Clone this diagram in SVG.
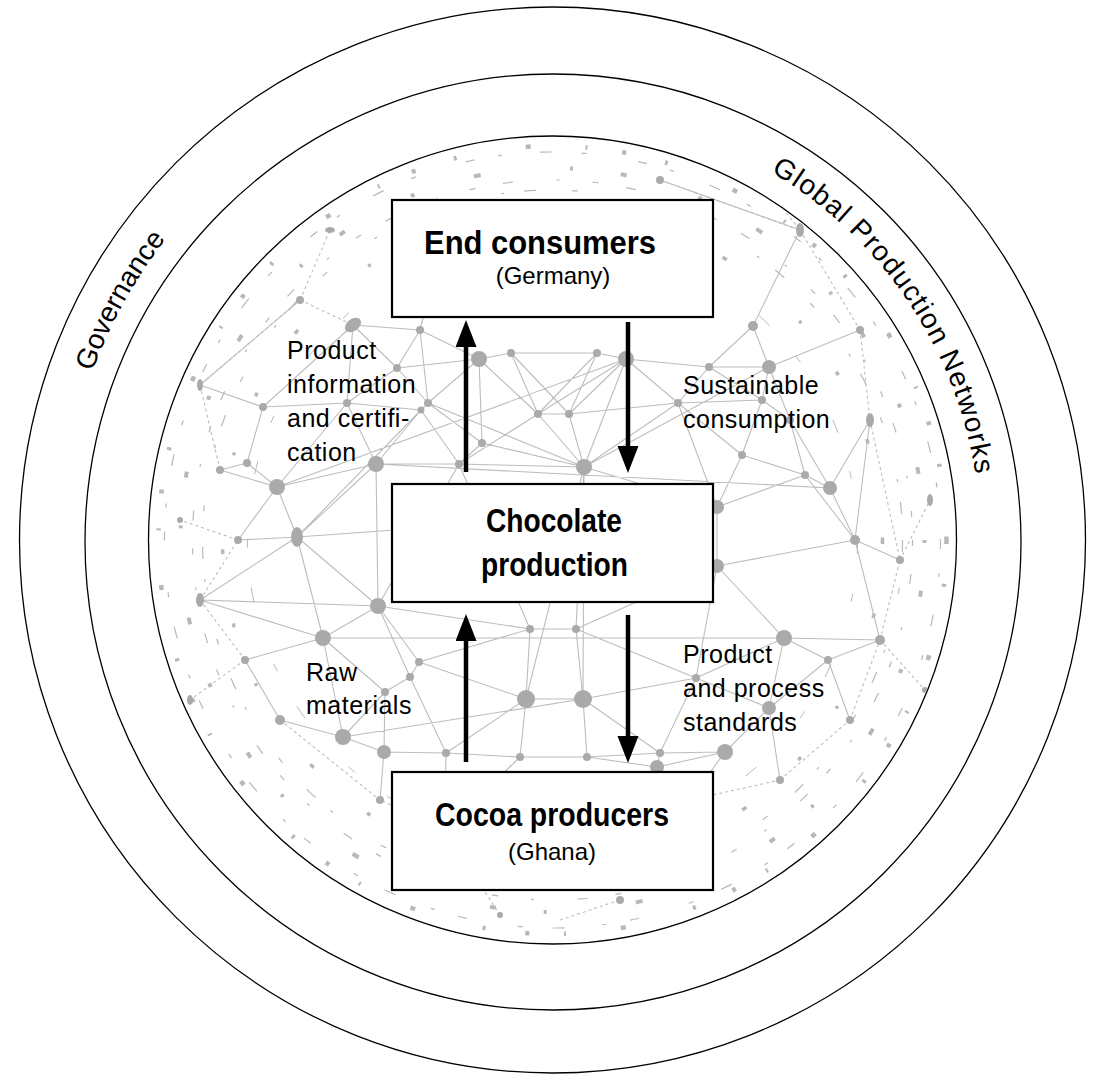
<svg xmlns="http://www.w3.org/2000/svg" width="1094" height="1074" viewBox="0 0 1094 1074">
<style>
.ring{fill:none;stroke:#000;stroke-width:1.3}
.box{fill:#fff;stroke:#000;stroke-width:2.2}
.title{font-family:"Liberation Sans",Arial,sans-serif;font-weight:bold;font-size:33px;fill:#000}
.sub{font-family:"Liberation Sans",Arial,sans-serif;font-size:24px;fill:#000}
.lbl{font-family:"Liberation Sans",Arial,sans-serif;font-size:25px;letter-spacing:0.5px;fill:#000}
.arc{font-family:"Liberation Sans",Arial,sans-serif;font-size:28px;fill:#000}
.net{fill:none;stroke:#bdbdbd;stroke-width:1.1}
.dot{fill:#aaaaaa}
.frag{fill:none;stroke:#b8b8b8}
.arrow{stroke:#000;stroke-width:4.5;fill:none}
</style>
<defs>
<clipPath id="inner"><circle cx="552.5" cy="540" r="403"/></clipPath>
<marker id="head" markerUnits="userSpaceOnUse" markerWidth="28" markerHeight="22" refX="0" refY="10.5" orient="auto">
<path d="M0,0 L27,10.5 L0,21 z" fill="#000"/>
</marker>
<path id="govPath" d="M 62.57 548.55 A 490 490 0 0 1 300.15 119.97"/>
<path id="gpnPath" d="M 740.1 155.3 A 428 428 0 0 1 979.5 510.1"/>
</defs>

<g id="background-network" clip-path="url(#inner)">
<circle class="frag" cx="552.5" cy="540" r="394" stroke-width="4.5" stroke-dasharray="4 40 3 70 5 55 2 35"/>
<circle class="frag" cx="552.5" cy="540" r="388" stroke-width="1.2" stroke-dasharray="9 24 4 38 12 30 5 52"/>
<circle class="frag" cx="552.5" cy="540" r="372" stroke-width="4" stroke-dasharray="3 48 6 75 4 62 7 90"/>
<circle class="frag" cx="552.5" cy="540" r="360" stroke-width="1.2" stroke-dasharray="6 28 10 44 3 33"/>
<circle class="frag" cx="552.5" cy="540" r="350" stroke-width="1.2" stroke-dasharray="12 36 6 58 3 20"/>
<circle class="frag" cx="552.5" cy="540" r="330" stroke-width="3.5" stroke-dasharray="4 70 5 95 3 60"/>
<circle class="frag" cx="552.5" cy="540" r="305" stroke-width="1" stroke-dasharray="14 40 8 66"/>
<path class="net" stroke-dasharray="3 3" d="M300 300 L200 385 M440 250 L420 330 M660 180 L800 230 M800 230 L860 330 M860 330 L870 420 M870 420 L900 560 M880 640 L900 560 M850 720 L880 640 M780 780 L850 720 M690 800 L780 780 M445 830 L380 800 M280 720 L380 800 M245 660 L200 600 M200 600 L238 540 M220 470 L200 385 M300 300 L353 325 M690 800 L657 767 M445 830 L520 757 M900 560 L930 500 M880 640 L925 690 M245 660 L190 700 M238 540 L180 520 M300 300 L330 230 M760 180 L800 230 M560 920 L620 900 M500 915 L445 830"/>
<path class="net" d="
M479 359 L511 353 M479 359 L428 403 M479 359 L538 414 M479 359 L482 443 M479 359 L420 330 M479 359 L397 368
M511 353 L597 353 M511 353 L538 414 M511 353 L569 414
M597 353 L626 359 M597 353 L569 414 M597 353 L538 414
M626 359 L569 414 M626 359 L678 403 M626 359 L709 367 M626 359 L584 467 M626 359 L538 414
M538 414 L569 414 M538 414 L584 467 M538 414 L459 464
M569 414 L584 467 M569 414 L678 403
M428 403 L421 410 M428 403 L420 330 M428 403 L397 368 M428 403 L482 443 M428 403 L584 467
M421 410 L376 464 M421 410 L347 403 M421 410 L459 464 M421 410 L297 537
M376 464 L459 464 M376 464 L277 487 M376 464 L347 403 M376 464 L297 537 M376 464 L378 606
M459 464 L482 443 M459 464 L584 467 M459 464 L378 606 M459 464 L530 629
M482 443 L584 467
M584 467 L678 403 M584 467 L717 507 M584 467 L526 699 M584 467 L576 629 M584 467 L583 699
M678 403 L709 367 M678 403 L762 400 M678 403 L717 507 M678 403 L742 455
M709 367 L753 326 M709 367 L769 367 M709 367 L762 400
M753 326 L769 367 M753 326 L800 230
M769 367 L762 400 M769 367 L790 420 M769 367 L860 330
M805 475 L830 488 M805 475 L742 455 M805 475 L790 420 M805 475 L717 507
M830 488 L855 540 M830 488 L870 420 M830 488 L790 420
M762 400 L742 455 M762 400 L790 420
M353 325 L420 330 M353 325 L397 368 M353 325 L347 403 M353 325 L263 407
M420 330 L440 250 M420 330 L397 368
M397 368 L347 403
M347 403 L263 407 M347 403 L277 487
M277 487 L247 463 M277 487 L297 537 M277 487 L220 470 M277 487 L238 540
M247 463 L263 407 M247 463 L220 470
M263 407 L200 385
M297 537 L378 606 M297 537 L323 638 M297 537 L238 540 M297 537 L200 600
M378 606 L323 638 M378 606 L419 662 M378 606 L530 629 M378 606 L410 677
M323 638 L343 737 M323 638 L245 660 M323 638 L200 600 M323 638 L385 692
M419 662 L410 677 M419 662 L530 629 M419 662 L526 699
M410 677 L385 692 M410 677 L446 753
M385 692 L343 737 M385 692 L384 752
M343 737 L384 752 M343 737 L280 720
M384 752 L446 753 M384 752 L380 800
M446 753 L526 699 M446 753 L520 757 M446 753 L445 830
M526 699 L583 699 M526 699 L530 629 M526 699 L520 757
M583 699 L576 629 M583 699 L587 757 M583 699 L696 678 M583 699 L660 753
M530 629 L576 629
M576 629 L717 566 M576 629 L696 678
M696 678 L784 638 M696 678 L769 708 M696 678 L717 566 M696 678 L660 753
M784 638 L769 708 M784 638 L828 660 M784 638 L717 566 M784 638 L880 640
M769 708 L725 752 M769 708 L828 660 M769 708 L780 780
M828 660 L850 720 M828 660 L880 640
M725 752 L660 753 M725 752 L657 767 M725 752 L690 800
M660 753 L657 767 M660 753 L587 757
M657 767 L587 757 M657 767 L690 800
M520 757 L587 757 M520 757 L445 830
M717 507 L717 566 M717 507 L742 455 M717 507 L805 475
M717 566 L855 540 M717 566 L784 638
M855 540 L900 560 M855 540 L880 640 M855 540 L870 420
M245 660 L280 720
M300 300 L200 385
M660 180 L800 230
M376 464 L830 488 M277 487 L626 359 M297 537 L717 507 M323 638 L784 638 M343 737 L583 699 M200 600 L378 606 M769 367 L584 467 M855 540 L805 475"/>
<g class="dot">
<circle cx="479" cy="359" r="8"/><circle cx="511" cy="353" r="4"/><circle cx="597" cy="353" r="4"/>
<circle cx="626" cy="359" r="8"/><circle cx="538" cy="414" r="4"/><circle cx="569" cy="414" r="4"/>
<circle cx="428" cy="403" r="4"/><circle cx="421" cy="410" r="3.5"/><circle cx="376" cy="464" r="8"/>
<circle cx="459" cy="464" r="4"/><circle cx="482" cy="443" r="4"/><circle cx="584" cy="467" r="8"/>
<circle cx="678" cy="403" r="4"/><circle cx="709" cy="367" r="4"/><circle cx="753" cy="326" r="5"/>
<circle cx="769" cy="367" r="7"/><circle cx="805" cy="475" r="4"/><circle cx="830" cy="488" r="7"/>
<circle cx="762" cy="400" r="4"/><ellipse cx="353" cy="325" rx="9" ry="6" transform="rotate(-35 353 325)"/>
<circle cx="420" cy="330" r="4"/><circle cx="397" cy="368" r="4"/><circle cx="347" cy="403" r="4"/>
<circle cx="277" cy="487" r="8"/><circle cx="247" cy="463" r="4"/><circle cx="263" cy="407" r="4"/>
<ellipse cx="200" cy="385" rx="3" ry="6"/><ellipse cx="297" cy="537" rx="6" ry="10"/><circle cx="378" cy="606" r="8"/>
<circle cx="323" cy="638" r="8"/><circle cx="419" cy="662" r="4"/><circle cx="410" cy="677" r="4"/>
<circle cx="385" cy="692" r="4"/><circle cx="343" cy="737" r="8"/><circle cx="384" cy="752" r="7"/>
<circle cx="446" cy="753" r="4"/><circle cx="526" cy="699" r="9"/><circle cx="583" cy="699" r="9"/>
<circle cx="530" cy="629" r="4"/><circle cx="576" cy="629" r="4"/><circle cx="696" cy="678" r="4"/>
<circle cx="784" cy="638" r="8"/><circle cx="769" cy="708" r="7"/><circle cx="828" cy="660" r="4"/>
<circle cx="725" cy="752" r="8"/><circle cx="660" cy="753" r="4"/><circle cx="657" cy="767" r="7"/>
<circle cx="520" cy="757" r="4"/><circle cx="587" cy="757" r="4"/><circle cx="717" cy="507" r="7"/>
<circle cx="717" cy="566" r="7"/><circle cx="742" cy="455" r="4"/><circle cx="790" cy="420" r="4"/>
<circle cx="855" cy="540" r="5"/><circle cx="900" cy="560" r="4"/><circle cx="238" cy="540" r="4"/>
<ellipse cx="200" cy="600" rx="4" ry="7"/><circle cx="245" cy="660" r="4"/><circle cx="280" cy="720" r="5"/>
<circle cx="380" cy="800" r="4"/><circle cx="445" cy="830" r="4"/><ellipse cx="690" cy="800" rx="6" ry="4"/>
<circle cx="780" cy="780" r="4"/><circle cx="850" cy="720" r="4"/><circle cx="880" cy="640" r="5"/>
<circle cx="300" cy="300" r="4"/><ellipse cx="440" cy="250" rx="7" ry="4"/><circle cx="660" cy="180" r="4"/>
<ellipse cx="800" cy="230" rx="4" ry="7"/><circle cx="860" cy="330" r="4"/><ellipse cx="870" cy="420" rx="4" ry="7"/>
<circle cx="220" cy="470" r="4"/><ellipse cx="930" cy="500" rx="3" ry="6"/><circle cx="925" cy="690" r="3"/>
<ellipse cx="190" cy="700" rx="3" ry="5"/><circle cx="180" cy="520" r="3"/><ellipse cx="330" cy="230" rx="5" ry="3"/>
<ellipse cx="760" cy="180" rx="5" ry="3"/><circle cx="620" cy="900" r="4"/><circle cx="500" cy="915" r="3"/>
</g>
</g>

<g id="rings">
<circle class="ring" cx="552.5" cy="540" r="533"/>
<circle class="ring" cx="553" cy="542" r="468"/>
<circle class="ring" cx="552.5" cy="540" r="404"/>
</g>

<g id="ring-labels">
<text class="arc"><textPath href="#govPath" startOffset="50%" text-anchor="middle">Governance</textPath></text>
<text class="arc" letter-spacing="1.2"><textPath href="#gpnPath" startOffset="50%" text-anchor="middle">Global Production Networks</textPath></text>
</g>

<g id="connectors">
<line class="arrow" x1="466" y1="472" x2="466" y2="347" marker-end="url(#head)"/>
<line class="arrow" x1="628" y1="322" x2="628" y2="446" marker-end="url(#head)"/>
<line class="arrow" x1="466" y1="762" x2="466" y2="641" marker-end="url(#head)"/>
<line class="arrow" x1="628" y1="615" x2="628" y2="736" marker-end="url(#head)"/>
</g>

<g id="connector-labels">
<text class="lbl" x="287" y="359">Product</text>
<text class="lbl" x="287" y="393">information</text>
<text class="lbl" x="287" y="427">and certifi-</text>
<text class="lbl" x="287" y="461">cation</text>
<text class="lbl" x="683" y="394">Sustainable</text>
<text class="lbl" x="683" y="428">consumption</text>
<text class="lbl" x="306" y="681">Raw</text>
<text class="lbl" x="306" y="714">materials</text>
<text class="lbl" x="683" y="663">Product</text>
<text class="lbl" x="683" y="697">and process</text>
<text class="lbl" x="683" y="731">standards</text>
</g>

<g id="node-end-consumers">
<rect class="box" x="392" y="200" width="321" height="117"/>
<text class="title" x="424" y="254" textLength="232" lengthAdjust="spacingAndGlyphs">End consumers</text>
<text class="sub" x="553" y="284" text-anchor="middle">(Germany)</text>
</g>

<g id="node-chocolate-production">
<rect class="box" x="392" y="484" width="321" height="118"/>
<text class="title" x="486" y="532" textLength="136" lengthAdjust="spacingAndGlyphs">Chocolate</text>
<text class="title" x="481" y="576" textLength="147" lengthAdjust="spacingAndGlyphs">production</text>
</g>

<g id="node-cocoa-producers">
<rect class="box" x="392" y="772" width="321" height="118"/>
<text class="title" x="435" y="826" textLength="234" lengthAdjust="spacingAndGlyphs">Cocoa producers</text>
<text class="sub" x="552" y="860" text-anchor="middle">(Ghana)</text>
</g>
</svg>
